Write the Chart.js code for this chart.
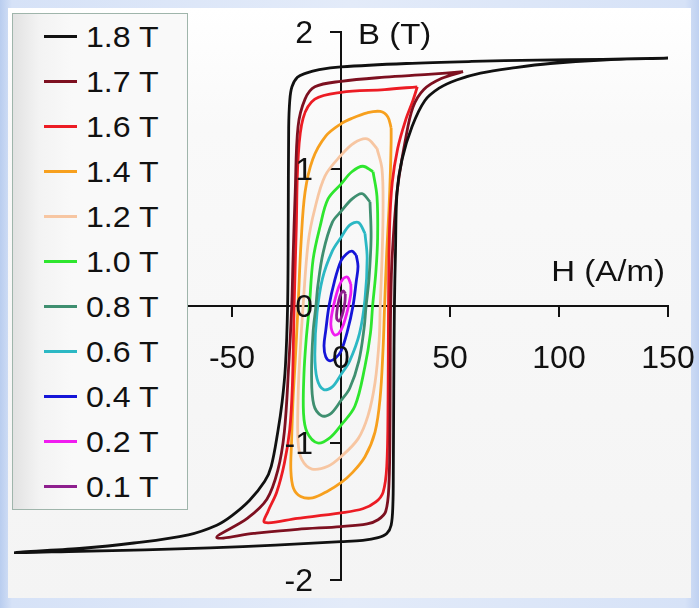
<!DOCTYPE html>
<html>
<head>
<meta charset="utf-8">
<script src="https://cdn.jsdelivr.net/npm/chart.js@4.4.1/dist/chart.umd.min.js"></script>
<style>
html, body { margin: 0; padding: 0; }
body {
    width: 699px; height: 608px; overflow: hidden; position: relative;
    background: linear-gradient(to right, #b9cdef 0, #d6e2f7 12px, #e3ebf9 50%, #d6e2f7 98%, #bfd1f1 100%);
    font-family: "Liberation Sans", Arial, sans-serif;
}
#panel {
    position: absolute; left: 8px; top: 8px; width: 683px; height: 590px;
    background: linear-gradient(to bottom, #ffffff 0, #f9f9f9 120px, #f4f4f4 100%);
}
#chart { position: absolute; left: 0; top: 0; }
#legend {
    position: absolute; left: 12px; top: 13px; width: 174px; height: 495px;
    border: 1px solid #9fb5ab;
    background: linear-gradient(to right, #e2e2e2 0, #f3f3f3 26px, #f9f9f9 60px);
}
.item { height: 45px; display: flex; align-items: center; }
.item .swatch { width: 33px; height: 3px; margin-left: 31px; margin-right: 9px; }
.item span { display: inline-block; font-size: 30px; color: #111; line-height: 45px; transform: scaleX(1.07); transform-origin: 0 50%; }
</style>
</head>
<body>
<div id="panel"></div>
<canvas id="chart" width="699" height="608"></canvas>
<div id="legend"></div>
<script>
// loop labels (peak flux density)
const seriesLabels = ['1.8 T', '1.7 T', '1.6 T', '1.4 T', '1.2 T', '1.0 T', '0.8 T', '0.6 T', '0.4 T', '0.2 T', '0.1 T'];

// each loop as [H (A/m), B (T)], tip -> upper branch -> lower branch -> tip
const loop18 = [[150,1.81],[120,1.80],[90,1.795],[60,1.785],[30,1.77],[0,1.745],[-10,1.725],[-16,1.70],[-20,1.67],[-22.5,1.60],[-23.5,1.50],[-24,1.30],[-24.2,0.60],[-24.5,0],[-25.5,-0.44],[-27,-0.70],[-29,-0.92],[-32,-1.17],[-35,-1.28],[-42,-1.42],[-50,-1.53],[-57,-1.60],[-70,-1.67],[-95,-1.73],[-120,-1.77],[-150,-1.80],
    [-120,-1.79],[-90,-1.78],[-60,-1.765],[-30,-1.745],[0,-1.72],[10,-1.71],[17,-1.69],[21,-1.66],[23,-1.60],[23.8,-1.45],[24,-1.20],[24.2,-0.60],[24.5,0],[25,0.40],[25.7,0.83],[28,1.07],[32.6,1.31],[38.5,1.50],[45,1.59],[53,1.65],[64,1.70],[80,1.74],[96,1.77],[120,1.795],[150,1.81]];
const loop17 = [[56,1.71],[40,1.69],[20,1.67],[0,1.64],[-12,1.60],[-16.5,1.51],[-19.7,1.31],[-21,0.83],[-22,0.34],[-22.6,0],[-24,-0.44],[-26,-0.92],[-29,-1.20],[-34,-1.41],[-43,-1.55],[-57,-1.69],
    [-40,-1.66],[-20,-1.63],[0,-1.61],[12,-1.59],[17,-1.56],[20.5,-1.50],[22,-1.30],[22.5,-0.80],[22.6,-0.30],[22.8,0],[23.4,0.34],[25.7,0.83],[29.4,1.20],[33,1.45],[38,1.58],[46,1.66],[56,1.71]];
const loop16 = [[35,1.60],[20,1.58],[0,1.56],[-12,1.51],[-17.4,1.37],[-19.7,1.07],[-20.5,0.58],[-21.5,0],[-22.3,-0.58],[-23.5,-0.90],[-26,-1.15],[-29.5,-1.36],[-33.5,-1.50],[-35,-1.58],
    [-20,-1.55],[0,-1.51],[10,-1.48],[16,-1.43],[19.3,-1.36],[21,-1.17],[21.6,-0.68],[21.8,0],[22.3,0.58],[23.5,0.90],[26,1.15],[29.5,1.35],[33,1.50],[35,1.60]];
const loop14 = [[23,1.30],[21.5,1.38],[18,1.42],[12,1.41],[5,1.37],[0,1.33],[-7,1.24],[-13,1.07],[-16.5,0.83],[-18.3,0.47],[-19.7,0],[-21,-0.40],[-22,-0.68],[-22.7,-1.00],[-23,-1.20],[-21.8,-1.33],[-18.5,-1.39],
    [-13,-1.40],[-6,-1.35],[0,-1.29],[5,-1.22],[11,-1.10],[15.6,-0.92],[17.9,-0.68],[19.3,-0.31],[20,0],[21,0.40],[22,0.70],[22.7,1.00],[23,1.20],[23,1.30]];
const loop12 = [[16.5,1.15],[12,1.22],[6,1.19],[0,1.10],[-7.3,0.95],[-12,0.71],[-15,0.47],[-17.4,0],[-19,-0.40],[-19.7,-0.68],[-19.7,-0.99],[-18,-1.12],
    [-13.3,-1.19],[-6,-1.17],[0,-1.10],[7.8,-0.97],[12.4,-0.80],[15.6,-0.56],[17.5,-0.25],[18,0],[18.8,0.34],[19.3,0.71],[18.8,1.00],[16.5,1.15]];
const loop10 = [[14.7,0.98],[10,1.02],[5,0.98],[0,0.89],[-6,0.78],[-9.6,0.58],[-12.8,0.34],[-14.5,0],[-16,-0.25],[-17,-0.50],[-17.2,-0.78],[-15.6,-0.92],
    [-10.6,-1.00],[-5,-0.96],[0,-0.87],[6.4,-0.73],[11,-0.44],[13.5,-0.20],[14.5,0],[16,0.25],[16.8,0.50],[16.5,0.80],[14.7,0.98]];
const loop08 = [[13.3,0.76],[9.6,0.82],[5,0.78],[0,0.69],[-4,0.61],[-8.2,0.39],[-10.6,0.15],[-11.5,0],[-12.8,-0.19],[-13.5,-0.50],[-12.5,-0.72],
    [-9,-0.80],[-5,-0.79],[0,-0.69],[4,-0.60],[8.2,-0.40],[10.6,-0.16],[11.5,0],[12.8,0.19],[13.8,0.50],[13.3,0.76]];
const loop06 = [[11,0.53],[8,0.61],[4,0.59],[0,0.50],[-4,0.40],[-8.5,0.20],[-11,-0.05],[-12,-0.35],
    [-11,-0.53],[-8,-0.61],[-4,-0.59],[0,-0.50],[4,-0.40],[8.5,-0.20],[11,0.05],[12,0.35],[11,0.53]];
const loop04 = [[7.0,0.37],[5,0.40],[2.5,0.38],[0,0.33],[-3,0.18],[-5.5,0.0],[-7,-0.18],[-7.8,-0.29],
    [-7.0,-0.37],[-5,-0.40],[-2.5,-0.38],[0,-0.33],[3,-0.18],[5.5,0.0],[7,0.18],[7.8,0.29],[7.0,0.37]];
const loop02 = [[4.5,0.16],[3,0.21],[1,0.20],[-1,0.14],[-3,0.03],[-4.5,-0.09],
    [-4.5,-0.16],[-3,-0.21],[-1,-0.20],[1,-0.14],[3,-0.03],[4.5,0.09],[4.5,0.16]];
const loop01 = [[2,0.09],[1,0.11],[0,0.09],[-1,0.04],[-1.8,-0.03],
    [-2,-0.09],[-1,-0.11],[0,-0.09],[1,-0.04],[1.8,0.03],[2,0.09]];

// axis tick values
const hTicks = [-150, -100, -50, 0, 50, 100, 150];
const bTicks = [-2, -1, 0, 1, 2];

const loops = [loop18, loop17, loop16, loop14, loop12, loop10, loop08, loop06, loop04, loop02, loop01];
const lineColors = ['#111111', '#7d1020', '#ec1c24', '#f7a01e', '#f7c6a2', '#2ee62e', '#3f8f70', '#2cb8c4', '#1515d8', '#f01cf0', '#8e1f8e'];

const FONT = '"Liberation Sans", Arial, sans-serif';

function wideText(ctx, txt, x, y, sx){
    ctx.save();
    ctx.translate(x, y);
    ctx.scale(sx, 1);
    ctx.fillText(txt, 0, 0);
    ctx.restore();
}

// tick labels and axis titles next to the crossing axes
const axisText = {
    id: 'axisText',
    afterDraw(chart){
        const {ctx, scales: {x, y}} = chart;
        const x0 = x.getPixelForValue(0), y0 = y.getPixelForValue(0);
        ctx.save();
        ctx.fillStyle = '#111';
        ctx.font = '32px ' + FONT;
        ctx.textBaseline = 'middle';
        ctx.textAlign = 'center';
        // -150 / -100 sit under the legend box
        hTicks.forEach(v => { if(v >= -50) ctx.fillText(String(v), x.getPixelForValue(v), y0 + 53); });
        ctx.textAlign = 'right';
        bTicks.forEach(v => ctx.fillText(String(v), x0 - 28, y.getPixelForValue(v) + 2));

        ctx.font = '30px ' + FONT;
        ctx.textAlign = 'left';
        wideText(ctx, 'B (T)', x0 + 17, y.getPixelForValue(2) + 4, 1.1);
        ctx.textAlign = 'right';
        wideText(ctx, 'H (A/m)', x.getPixelForValue(150) - 3, y0 - 33, 1.1);
        ctx.restore();
    }
};

const datasets = loops.map((pts, i) => ({
    label: seriesLabels[i],
    data: pts.map(p => ({x: p[0], y: p[1]})),
    borderColor: lineColors[i],
    backgroundColor: lineColors[i],
    borderWidth: 2.8,
    pointRadius: 0,
    showLine: true,
    fill: false,
    tension: 0.35
}));

const axisStyle = {
    grid: { drawOnChartArea: false, drawTicks: true, tickLength: 10, color: '#111', lineWidth: 2 },
    border: { display: true, color: '#111', width: 2 },
    ticks: { display: false }
};

new Chart(document.getElementById('chart'), {
    type: 'scatter',
    data: { datasets },
    options: {
        responsive: false,
        animation: false,
        devicePixelRatio: 1,
        layout: { padding: { left: 14, right: 31, top: 32, bottom: 28 } },
        plugins: { legend: { display: false }, tooltip: { enabled: false } },
        scales: {
            x: Object.assign({
                type: 'linear', min: -150, max: 150, position: { y: 0 },
                afterBuildTicks: s => { s.ticks = hTicks.map(v => ({value: v})); }
            }, axisStyle),
            y: Object.assign({
                type: 'linear', min: -2, max: 2, position: { x: 0 },
                afterBuildTicks: s => { s.ticks = bTicks.map(v => ({value: v})); }
            }, axisStyle)
        }
    },
    plugins: [axisText]
});

// html legend on top of the plot
(function(){
    const box = document.getElementById('legend');
    seriesLabels.forEach((lab, i) => {
        const row = document.createElement('div');
        row.className = 'item';
        row.innerHTML = '<div class="swatch" style="background:' + lineColors[i] + '"></div><span>' + lab + '</span>';
        box.appendChild(row);
    });
})();
</script>
</body>
</html>
